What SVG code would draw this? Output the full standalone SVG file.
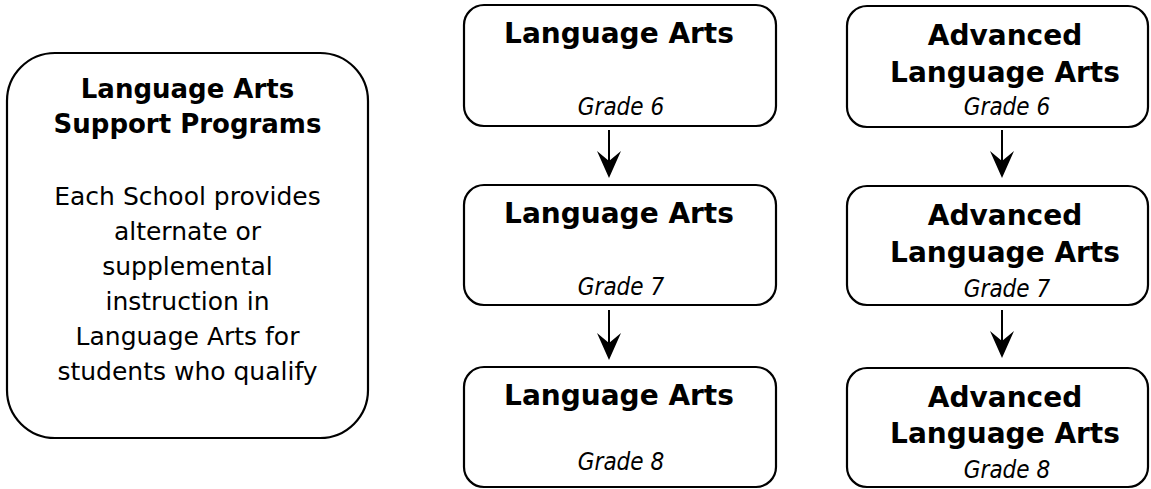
<svg xmlns="http://www.w3.org/2000/svg" width="1151" height="489" viewBox="0 0 1151 489">
<style>
.box{fill:#fff;stroke:#000;stroke-width:2.2}
.t{font-family:"DejaVu Sans","Verdana",sans-serif;font-weight:bold;font-size:28px;text-anchor:middle;fill:#000}
.tl{font-size:26px}
.b{font-family:"DejaVu Sans","Verdana",sans-serif;font-size:25px;text-anchor:middle;fill:#000}
.g{font-family:"DejaVu Sans Condensed","DejaVu Sans",sans-serif;font-stretch:condensed;font-style:italic;font-size:24px;text-anchor:middle;fill:#000}
.ln{stroke:#000;stroke-width:2;fill:none}
.ah{fill:#000}
</style>
<rect width="1151" height="489" fill="#fff"/>
<g id="support">
<rect class="box" x="7" y="53" width="361" height="385" rx="48" ry="48"/>
<text class="t tl" x="187.5" y="98">Language Arts</text>
<text class="t tl" x="187.5" y="133">Support Programs</text>
<text class="b" x="187.5" y="205">Each School provides</text>
<text class="b" x="187.5" y="240">alternate or</text>
<text class="b" x="187.5" y="275">supplemental</text>
<text class="b" x="187.5" y="310">instruction in</text>
<text class="b" x="187.5" y="345">Language Arts for</text>
<text class="b" x="187.5" y="380">students who qualify</text>
</g>
<g id="la6">
<rect class="box" x="464" y="5" width="312" height="121" rx="20" ry="20"/>
<text class="t" x="619" y="43">Language Arts</text>
<text class="g" x="621" y="115">Grade 6</text>
</g>
<g id="la7">
<rect class="box" x="464" y="185" width="312" height="120" rx="20" ry="20"/>
<text class="t" x="619" y="223">Language Arts</text>
<text class="g" x="621" y="295">Grade 7</text>
</g>
<g id="la8">
<rect class="box" x="464" y="367" width="312" height="120" rx="20" ry="20"/>
<text class="t" x="619" y="405">Language Arts</text>
<text class="g" x="621" y="470">Grade 8</text>
</g>
<g id="ala6">
<rect class="box" x="847" y="6" width="301" height="121" rx="20" ry="20"/>
<text class="t" x="1005" y="45">Advanced</text>
<text class="t" x="1005" y="82">Language Arts</text>
<text class="g" x="1007" y="115">Grade 6</text>
</g>
<g id="ala7">
<rect class="box" x="847" y="186" width="301" height="119" rx="20" ry="20"/>
<text class="t" x="1005" y="225">Advanced</text>
<text class="t" x="1005" y="262">Language Arts</text>
<text class="g" x="1007" y="297">Grade 7</text>
</g>
<g id="ala8">
<rect class="box" x="847" y="368" width="301" height="119" rx="20" ry="20"/>
<text class="t" x="1005" y="407">Advanced</text>
<text class="t" x="1005" y="443">Language Arts</text>
<text class="g" x="1007" y="478">Grade 8</text>
</g>
<g id="connectors">
<line class="ln" x1="609" y1="130" x2="609" y2="166"/>
<path class="ah" d="M609,178 L597,151 L609,161 L621,151 Z"/>
<line class="ln" x1="609" y1="310" x2="609" y2="348"/>
<path class="ah" d="M609,360 L597,333 L609,343 L621,333 Z"/>
<line class="ln" x1="1002" y1="130" x2="1002" y2="166"/>
<path class="ah" d="M1002,178 L990,151 L1002,161 L1014,151 Z"/>
<line class="ln" x1="1002" y1="310" x2="1002" y2="346"/>
<path class="ah" d="M1002,358 L990,331 L1002,341 L1014,331 Z"/>
</g>
</svg>
